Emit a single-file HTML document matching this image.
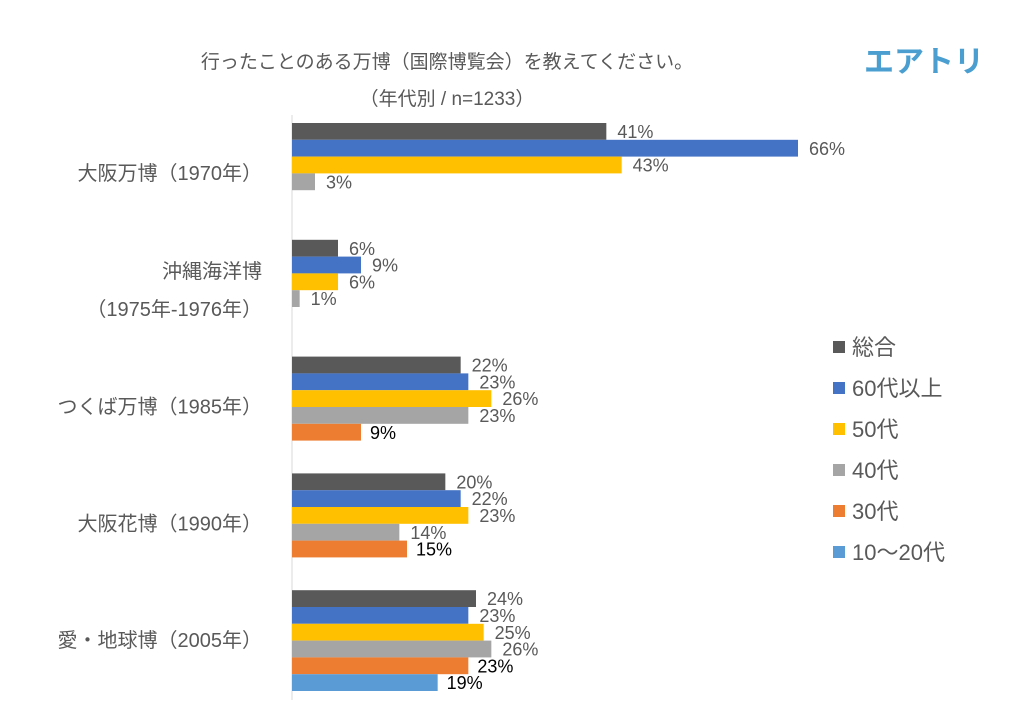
<!DOCTYPE html>
<html><head><meta charset="utf-8"><style>
body{margin:0;background:#fff;}
svg text{font-family:"Liberation Sans","Noto Sans CJK JP",sans-serif;}
</style></head><body>
<svg width="1018" height="717" id="c">
<text x="447" y="68" font-size="19" fill="#595959" text-anchor="middle">行ったことのある万博（国際博覧会）を教えてください。</text>
<text x="447" y="105" font-size="19" fill="#595959" text-anchor="middle">（年代別 / n=1233）</text>
<text x="924" y="72" font-size="30" font-weight="bold" fill="#4a9fd0" text-anchor="middle">エアトリ</text>
<line x1="292" y1="115" x2="292" y2="700" stroke="#d9d9d9" stroke-width="1"/>
<g id="bars"></g><g id="legend"></g>
</svg>
<script>
const categories=["大阪万博（1970年）","沖縄海洋博|（1975年-1976年）","つくば万博（1985年）","大阪花博（1990年）","愛・地球博（2005年）"];
const seriesNames=["総合","60代以上","50代","40代","30代","10～20代"];
const total=[41,6,22,20,24];
const s60=[66,9,23,22,23];
const s50=[43,6,26,23,25];
const s40=[3,1,23,14,26];
const s30=[null,null,9,15,23];
const s10=[null,null,null,null,19];
const colors=["#595959","#4472c4","#ffc000","#a5a5a5","#ed7d31","#5b9bd5"];
const series=[total,s60,s50,s40,s30,s10];
const NS="http://www.w3.org/2000/svg";
const x0=292, pxPer=506/66, g0=123, gPitch=116.8, slot=16.8;
const xs=v=>x0+v*pxPer;
const bars=document.getElementById('bars');
function mk(t,a){const e=document.createElementNS(NS,t);for(const k in a)e.setAttribute(k,a[k]);return e;}
categories.forEach((c,i)=>{
  const gy=g0+i*gPitch;
  const lines=c.split('|');
  lines.forEach((ln,j)=>{
    const t=mk('text',{x:262,y:gy+57+(lines.length>1?(j-0.5)*38:0),'font-size':20,fill:'#595959','text-anchor':'end'});
    
    
    t.textContent=ln;bars.appendChild(t);
  });
  series.forEach((s,k)=>{
    const v=s[i]; if(v==null) return;
    const y=gy+k*slot;
    const r=mk('rect',{x:x0,y:y,width:xs(v)-x0,height:slot,fill:colors[k]});
    
    
    bars.appendChild(r);
    const dark=k>=4;
    const t=mk('text',{x:xs(v)+(dark?9:11),y:y+15,'font-size':18,fill:dark?'#000':'#595959'});
    
    
    t.textContent=v+'%';bars.appendChild(t);
  });
});
const lg=document.getElementById('legend');
seriesNames.forEach((n,k)=>{
  const y=347+k*41;
  const r=mk('rect',{x:833,y:y-6,width:12,height:12,fill:colors[k]});
  
  
  lg.appendChild(r);
  const t=mk('text',{x:852,y:y+8,'font-size':22,fill:'#595959'});
  
  
  t.textContent=n;lg.appendChild(t);
});
</script>
</body></html>
